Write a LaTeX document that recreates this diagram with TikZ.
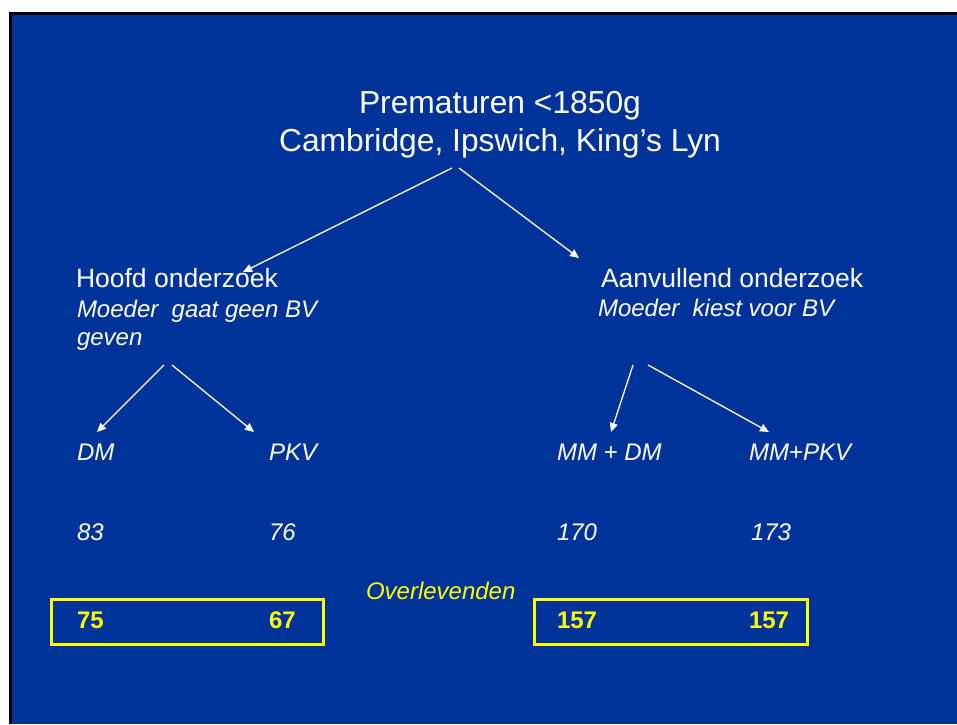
\documentclass[tikz,border=0pt]{standalone}
\usepackage{fontspec}
\setmainfont{Liberation Sans}
\usetikzlibrary{arrows.meta}
\definecolor{slideblue}{HTML}{003399}
\definecolor{slideyellow}{HTML}{FFFF00}
\tikzset{
  txt/.style={anchor=base west, inner sep=0pt, outer sep=0pt, text=white},
  big/.style={txt, font=\fontsize{26.5}{30}\selectfont},
  sub/.style={txt, font=\fontsize{24}{28}\selectfont\itshape},
  num/.style={txt, font=\fontsize{24}{28}\selectfont\bfseries, text=slideyellow},
  arr/.style={draw=white, line width=1.3pt, -{Triangle[length=9pt,width=8pt]}},
  ybox/.style={draw=slideyellow, line width=3pt}
}
\begin{document}
\begin{tikzpicture}[x=1pt,y=-1pt]
\useasboundingbox (0,0) rectangle (957,724);
\fill[white] (0,0) rectangle (957,724);
\fill[black] (9,12) rectangle (957,724);
\fill[slideblue] (12,15) rectangle (957,724);

% title
\node[txt, anchor=base, font=\fontsize{31.8}{38}\selectfont] (t1) at (500,113.5) {Prematuren <1850g};
\node[txt, anchor=base, font=\fontsize{31.8}{38}\selectfont] (t2) at (500,151) {Cambridge, Ipswich, King’s Lyn};

% second level
\node[big] (hoofd) at (76,287) {Hoofd onderzoek};
\node[sub] (hoofdsub1) at (77,317) {Moeder\ \ gaat geen BV};
\node[sub] (hoofdsub2) at (77,345) {geven};
\node[big] (aanv) at (601,287) {Aanvullend onderzoek};
\node[sub] (aanvsub) at (598,316) {Moeder\ \ kiest voor BV};

% third level
\node[sub] (dm) at (77,460.5) {DM};
\node[sub] (pkv) at (269,460.5) {PKV};
\node[sub] (mmdm) at (557,460.5) {MM + DM};
\node[sub] (mmpkv) at (749,460.5) {MM+PKV};

\node[sub] (n83) at (77,540.5) {83};
\node[sub] (n76) at (269,540.5) {76};
\node[sub] (n170) at (557,540.5) {170};
\node[sub] (n173) at (751,540.5) {173};

\node[sub, text=slideyellow] (overl) at (366,599.5) {Overlevenden};

% boxes
\draw[ybox] (51,599) rectangle (323,644);
\draw[ybox] (534,599) rectangle (807,644);
\node[num] (s75) at (77,628) {75};
\node[num] (s67) at (269,628) {67};
\node[num] (s157a) at (557,628) {157};
\node[num] (s157b) at (749,628) {157};

% arrow end points
\coordinate (ta) at (452,168);
\coordinate (tb) at (459,168);
\coordinate (ha) at (243,272);
\coordinate (hb) at (579,258);
\coordinate (la) at (164,365);
\coordinate (lb) at (172,365);
\coordinate (ldm) at (97,432);
\coordinate (lpkv) at (254,432);
\coordinate (ra) at (633,365);
\coordinate (rb) at (648,365);
\coordinate (rmmdm) at (611,432);
\coordinate (rmmpkv) at (769,432);

\draw[arr] (ta) -- (ha);
\draw[arr] (tb) -- (hb);
\draw[arr] (la) -- (ldm);
\draw[arr] (lb) -- (lpkv);
\draw[arr] (ra) -- (rmmdm);
\draw[arr] (rb) -- (rmmpkv);
\end{tikzpicture}
\end{document}
